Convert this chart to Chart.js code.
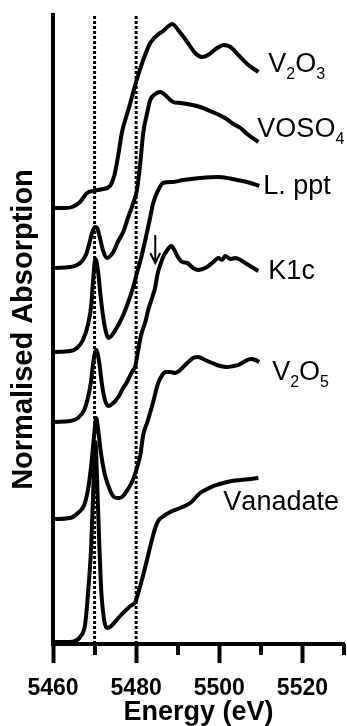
<!DOCTYPE html>
<html>
<head>
<meta charset="utf-8">
<script src="https://cdn.jsdelivr.net/npm/chart.js@4.4.1/dist/chart.umd.min.js"></script>
<style>
  html, body { margin: 0; padding: 0; background: #fff; }
  #wrap { width: 347px; height: 726px; }
</style>
</head>
<body>
<div id="wrap"><canvas id="xanes" width="347" height="726"></canvas></div>
<script>
// Energy (eV) / normalised absorption (offset stacked)
const energyV2O3 = [5460.5, 5462.9, 5464.6, 5466.5, 5468.2, 5469.6, 5472.0, 5473.7, 5474.9, 5475.7, 5476.6, 5477.6, 5478.6, 5479.5, 5480.5, 5481.7, 5483.4, 5485.1, 5486.5, 5487.5, 5488.7, 5490.1, 5492.3, 5494.2, 5495.9, 5497.3, 5499.5, 5501.0, 5502.7, 5504.6, 5507.0, 5509.4];
const absV2O3 = [4.35, 4.35, 4.36, 4.41, 4.50, 4.52, 4.54, 4.57, 4.70, 4.88, 5.11, 5.26, 5.40, 5.54, 5.68, 5.83, 6.00, 6.08, 6.12, 6.16, 6.19, 6.13, 6.01, 5.90, 5.86, 5.88, 5.95, 5.98, 5.96, 5.88, 5.78, 5.71];

const energyVOSO4 = [5460.5, 5464.1, 5465.8, 5467.0, 5468.0, 5468.7, 5469.4, 5470.1, 5470.6, 5471.3, 5472.0, 5473.0, 5474.5, 5475.7, 5476.9, 5478.1, 5479.3, 5480.2, 5481.0, 5481.7, 5482.7, 5483.4, 5484.6, 5485.8, 5487.5, 5488.9, 5490.6, 5492.3, 5495.4, 5497.8, 5499.5, 5501.4, 5503.4, 5505.1, 5506.7, 5509.4];
const absVOSO4 = [3.75, 3.76, 3.78, 3.82, 3.89, 3.99, 4.10, 4.16, 4.15, 4.05, 3.93, 3.85, 3.91, 4.02, 4.11, 4.26, 4.40, 4.53, 4.80, 5.10, 5.31, 5.43, 5.49, 5.51, 5.46, 5.41, 5.40, 5.39, 5.36, 5.32, 5.29, 5.25, 5.19, 5.15, 5.09, 5.01];

const energyLppt = [5460.5, 5464.1, 5465.8, 5467.2, 5468.4, 5469.2, 5469.6, 5470.2, 5470.8, 5471.3, 5472.0, 5472.8, 5473.3, 5474.2, 5475.7, 5476.9, 5478.1, 5479.3, 5480.2, 5481.2, 5482.2, 5483.4, 5484.1, 5485.1, 5486.5, 5488.9, 5491.3, 5495.4, 5499.8, 5504.3, 5507.5, 5509.6];
const absLppt = [2.91, 2.92, 2.95, 3.03, 3.18, 3.38, 3.60, 3.84, 3.73, 3.53, 3.28, 3.10, 3.05, 3.08, 3.18, 3.28, 3.41, 3.56, 3.70, 3.85, 4.03, 4.26, 4.40, 4.51, 4.60, 4.61, 4.63, 4.65, 4.66, 4.63, 4.60, 4.57];

const energyK1c = [5460.5, 5464.1, 5466.0, 5467.5, 5468.4, 5469.2, 5469.6, 5470.4, 5471.1, 5471.8, 5472.5, 5473.3, 5474.5, 5475.7, 5476.9, 5477.8, 5479.0, 5479.8, 5480.5, 5481.2, 5482.2, 5482.9, 5483.9, 5484.6, 5485.1, 5485.8, 5486.5, 5487.5, 5488.4, 5489.2, 5489.9, 5491.1, 5492.3, 5493.7, 5494.9, 5496.6, 5498.3, 5499.8, 5500.7, 5501.4, 5502.7, 5503.9, 5505.1, 5507.0, 5509.4];
const absK1c = [2.21, 2.22, 2.25, 2.33, 2.45, 2.63, 2.78, 2.93, 2.81, 2.58, 2.43, 2.37, 2.40, 2.46, 2.55, 2.61, 2.71, 2.77, 2.93, 3.08, 3.21, 3.33, 3.46, 3.56, 3.68, 3.78, 3.86, 3.93, 3.97, 3.93, 3.87, 3.81, 3.80, 3.75, 3.73, 3.75, 3.80, 3.85, 3.83, 3.87, 3.84, 3.85, 3.83, 3.78, 3.72];

const energyV2O5 = [5460.5, 5464.1, 5466.0, 5467.5, 5468.4, 5469.2, 5469.9, 5470.4, 5470.8, 5471.6, 5472.5, 5473.7, 5474.7, 5475.7, 5476.6, 5477.6, 5479.0, 5480.2, 5481.0, 5481.7, 5482.7, 5483.9, 5485.3, 5486.3, 5487.0, 5488.2, 5489.4, 5490.6, 5492.3, 5493.7, 5494.9, 5496.6, 5498.3, 5500.2, 5501.9, 5503.4, 5504.6, 5506.3, 5507.5, 5508.7, 5509.6];
const absV2O5 = [1.24, 1.25, 1.30, 1.38, 1.53, 1.78, 2.08, 2.25, 2.15, 1.88, 1.68, 1.53, 1.46, 1.45, 1.46, 1.51, 1.61, 1.75, 1.88, 2.08, 2.21, 2.38, 2.60, 2.68, 2.71, 2.71, 2.70, 2.73, 2.80, 2.85, 2.86, 2.83, 2.80, 2.77, 2.76, 2.77, 2.78, 2.82, 2.84, 2.83, 2.81];

const energyVanadate = [5460.5, 5464.1, 5465.8, 5466.7, 5467.7, 5468.4, 5469.2, 5469.6, 5470.2, 5470.6, 5471.1, 5471.6, 5472.3, 5473.0, 5473.7, 5474.7, 5475.7, 5477.1, 5478.6, 5479.8, 5480.5, 5481.7, 5482.9, 5483.9, 5484.6, 5485.3, 5486.3, 5488.2, 5490.6, 5493.0, 5495.4, 5498.6, 5501.9, 5505.1, 5509.4];
const absVanadate = [0.01, 0.01, 0.03, 0.07, 0.18, 0.48, 0.98, 1.43, 2.01, 1.63, 1.03, 0.53, 0.23, 0.15, 0.16, 0.20, 0.25, 0.31, 0.37, 0.41, 0.50, 0.68, 0.88, 1.05, 1.15, 1.22, 1.26, 1.31, 1.35, 1.40, 1.50, 1.57, 1.61, 1.63, 1.65];

// '_' marks the next character as a subscript
const seriesNames = ['V_2O_3', 'VOSO_4', 'L. ppt', 'K1c', 'V_2O_5', 'Vanadate'];
const markerEnergies = [5470, 5480];     // dotted reference lines
const majorTicks = [5460, 5480, 5500, 5520];
const minorTicks = [5470, 5490, 5510, 5530];
const arrowEnergy = 5484.6;              // arrow above K1c shoulder
const arrowFrom = 4.08;
const arrowTo = 3.80;

const Y_MIN = -0.01;
const Y_MAX = 6.28;
const FONT = '"Liberation Sans", Arial, sans-serif';

const spectra = [
  [energyV2O3, absV2O3],
  [energyVOSO4, absVOSO4],
  [energyLppt, absLppt],
  [energyK1c, absK1c],
  [energyV2O5, absV2O5],
  [energyVanadate, absVanadate]
];

// pixel offset of each name from the end of its curve (left, baseline)
const labelOffsets = [[10, 0], [-1, -5], [4, 8], [10, 8], [13, 18], [-35, 32]];

const datasets = spectra.map(([en, ab], i) => ({
  label: seriesNames[i],
  data: en.map((e, j) => ({ x: e, y: ab[j] })),
  borderColor: '#000',
  borderWidth: 4,
  borderJoinStyle: 'round',
  pointRadius: 0,
  cubicInterpolationMode: 'monotone',
  fill: false
}));

markerEnergies.forEach(e => {
  datasets.push({
    label: 'marker ' + e,
    data: [{ x: e, y: Y_MIN }, { x: e, y: Y_MAX }],
    borderColor: '#000',
    borderWidth: 3,
    borderDash: [3, 2],
    pointRadius: 0,
    tension: 0,
    fill: false
  });
});

function drawChem(ctx, text, x, y) {
  let cx = x;
  for (let i = 0; i < text.length; i++) {
    let ch = text[i];
    if (ch === '_') {
      ch = text[++i];
      ctx.font = '16px ' + FONT;
      ctx.fillText(ch, cx, y + 7);
    } else {
      ctx.font = '27px ' + FONT;
      ctx.fillText(ch, cx, y);
    }
    cx += ctx.measureText(ch).width;
  }
}

const extrasPlugin = {
  id: 'extras',
  afterDraw(chart) {
    const { ctx, chartArea } = chart;
    const xs = chart.scales.x;
    const ys = chart.scales.y;
    ctx.save();
    ctx.fillStyle = '#000';
    ctx.strokeStyle = '#000';

    // minor ticks
    ctx.lineWidth = 4;
    minorTicks.forEach(v => {
      const px = Math.round(xs.getPixelForValue(v));
      ctx.beginPath();
      ctx.moveTo(px, chartArea.bottom);
      ctx.lineTo(px, chartArea.bottom + 11);
      ctx.stroke();
    });

    // series names at the curve ends
    ctx.textBaseline = 'alphabetic';
    ctx.textAlign = 'left';
    spectra.forEach(([en, ab], i) => {
      const n = en.length - 1;
      const px = xs.getPixelForValue(en[n]) + labelOffsets[i][0];
      const py = ys.getPixelForValue(ab[n]) + labelOffsets[i][1];
      drawChem(ctx, seriesNames[i], px, py);
    });

    // arrow
    const ax = xs.getPixelForValue(arrowEnergy);
    const a1 = ys.getPixelForValue(arrowFrom);
    const a2 = ys.getPixelForValue(arrowTo);
    ctx.lineWidth = 2;
    ctx.beginPath();
    ctx.moveTo(ax, a1);
    ctx.lineTo(ax, a2);
    ctx.moveTo(ax - 5, a2 - 10);
    ctx.lineTo(ax, a2);
    ctx.lineTo(ax + 5, a2 - 10);
    ctx.stroke();
    ctx.restore();
  }
};

new Chart(document.getElementById('xanes'), {
  type: 'line',
  data: { datasets },
  plugins: [extrasPlugin],
  options: {
    responsive: false,
    animation: false,
    devicePixelRatio: 1,
    layout: { padding: { top: 15, right: 3, left: 0, bottom: 0 } },
    plugins: { legend: { display: false }, tooltip: { enabled: false } },
    scales: {
      x: {
        type: 'linear',
        min: 5460,
        max: 5530,
        afterFit: s => { s.height = 82; },
        afterBuildTicks: s => { s.ticks = majorTicks.map(v => ({ value: v })); },
        border: { display: true, color: '#000', width: 4 },
        grid: { drawOnChartArea: false, drawTicks: true, tickLength: 19, tickWidth: 4, tickColor: '#000', color: '#000' },
        ticks: {
          color: '#000',
          autoSkip: false,
          maxRotation: 0,
          padding: 12,
          callback: v => String(v),
          font: { family: FONT, size: 23, weight: 'bold' }
        },
        title: {
          display: true,
          text: 'Energy (eV)',
          color: '#000',
          padding: 0,
          font: { family: FONT, size: 27, weight: 'bold', lineHeight: 1 }
        }
      },
      y: {
        type: 'linear',
        min: Y_MIN,
        max: Y_MAX,
        afterFit: s => { s.width = 53; },
        border: { display: true, color: '#000', width: 4 },
        grid: { display: false },
        ticks: { display: false },
        title: {
          display: true,
          text: 'Normalised Absorption',
          color: '#000',
          padding: { top: 9, bottom: 0 },
          font: { family: FONT, size: 29, weight: 'bold', lineHeight: 1 }
        }
      }
    }
  }
});
</script>
</body>
</html>
